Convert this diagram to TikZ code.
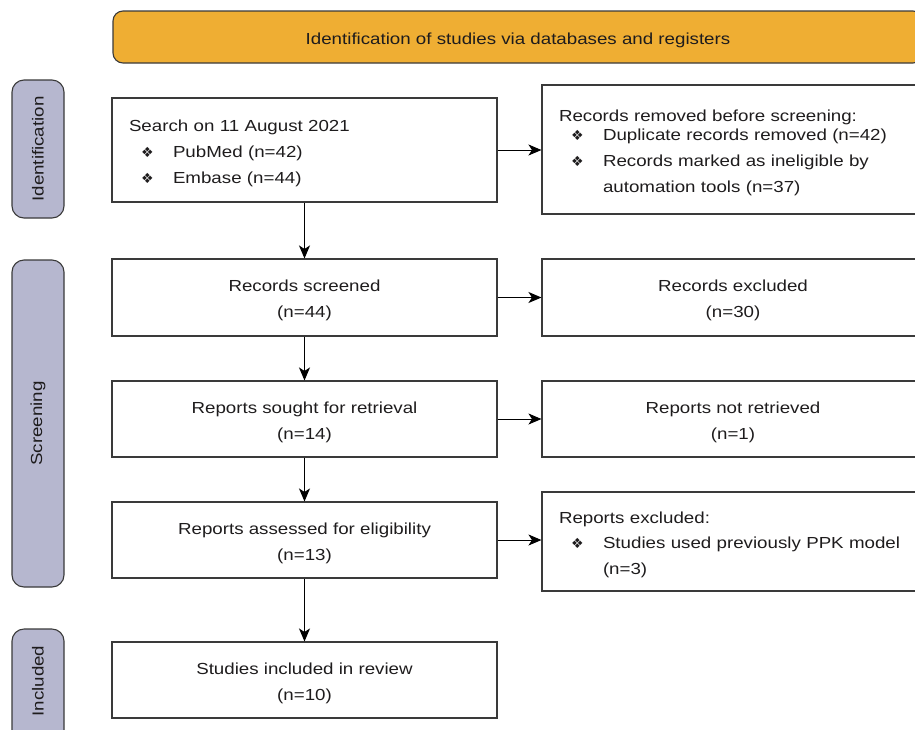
\documentclass[tikz,border=0pt]{standalone}
\usepackage{fontspec}
\setmainfont{Liberation Sans}[FakeStretch=1.17]
\newfontfamily\symf{DejaVu Sans}
\usetikzlibrary{arrows.meta}
\definecolor{bannerc}{HTML}{EFAE33}
\definecolor{pillc}{HTML}{B6B7CF}
\definecolor{linec}{HTML}{3A3A3A}
\definecolor{txtc}{HTML}{1E1C1D}
\newcommand{\bul}{{\symf\fontsize{14}{14}\selectfont ❖}}
\newcommand{\bitem}[1]{\hspace*{12pt}\makebox[32pt][l]{\bul}#1}
\newcommand{\tstrut}{\rule{0pt}{17.5pt}}
\begin{document}
\begin{tikzpicture}[x=1pt,y=-1pt,
  font=\fontsize{16}{26}\selectfont, text=txtc,
  box/.style={draw=linec, line width=1.1pt, rectangle, inner sep=0pt, align=center},
  lbox/.style={box, align=left, inner xsep=17pt, text width=#1},
  pillbg/.style={draw=linec, line width=1.1pt, fill=pillc, rounded corners=12pt},
  pill/.style={pillbg, rotate=90, inner sep=0pt, minimum height=52pt},
  arr/.style={-{Stealth[length=13pt,width=11pt,inset=3.5pt]}, line width=1pt, black}]
\useasboundingbox (0,0) rectangle (915,729);
\clip (0,0) rectangle (915,729);
% banner
\node[draw=linec, line width=1.1pt, fill=bannerc, rounded corners=10pt, minimum width=810pt, minimum height=52pt, inner sep=0pt] (ban) at (518,37) {\tstrut Identification of studies via databases and registers};
% phase labels
\node[pill, minimum width=138pt] (pid) at (38,149) {Identification};
\node[pill, minimum width=327pt] (pscr) at (38,423.5) {Screening};
\draw[pillbg] (12,629) rectangle (64,780);
\node[rotate=90, inner sep=0pt] (pinc) at (38,681) {Included};
% main column
\node[lbox=351pt, minimum width=385pt, minimum height=104pt] (s1) at (304.5,150) {\tstrut Search on 11 August 2021\\\bitem{PubMed (n=42)}\\\bitem{Embase (n=44)}};
\node[box, minimum width=385pt, minimum height=77pt] (c2) at (304.5,297.5) {\tstrut Records screened\\(n=44)};
\node[box, minimum width=385pt, minimum height=76pt] (c3) at (304.5,419) {\tstrut Reports sought for retrieval\\(n=14)};
\node[box, minimum width=385pt, minimum height=76pt] (c4) at (304.5,540) {\tstrut Reports assessed for eligibility\\(n=13)};
\node[box, minimum width=385pt, minimum height=76pt] (c5) at (304.5,680) {\tstrut Studies included in review\\(n=10)};
% right column
\node[lbox=348pt, minimum width=382pt, minimum height=129pt] (r1) at (733,149.5) {\tstrut Records removed before screening:\\[-7pt]\bitem{Duplicate records removed (n=42)}\\\bitem{Records marked as ineligible by}\\[0pt]\hspace*{44pt}automation tools (n=37)};
\node[box, minimum width=382pt, minimum height=77pt] (r2) at (733,297.5) {\tstrut Records excluded\\(n=30)};
\node[box, minimum width=382pt, minimum height=76pt] (r3) at (733,419) {\tstrut Reports not retrieved\\(n=1)};
\node[lbox=348pt, minimum width=382pt, minimum height=99pt] (r4) at (733,541.5) {\tstrut Reports excluded:\\[-1pt]\bitem{Studies used previously PPK model}\\\hspace*{44pt}(n=3)};
% vertical arrows
\draw[arr] (s1) -- (c2);
\draw[arr] (c2) -- (c3);
\draw[arr] (c3) -- (c4);
\draw[arr] (c4) -- (c5);
% horizontal arrows
\draw[arr] (s1.east) -- (s1.east -| r1.west);
\draw[arr] (c2.east) -- (c2.east -| r2.west);
\draw[arr] (c3.east) -- (c3.east -| r3.west);
\draw[arr] (c4.east) -- (c4.east -| r4.west);
\end{tikzpicture}
\end{document}
